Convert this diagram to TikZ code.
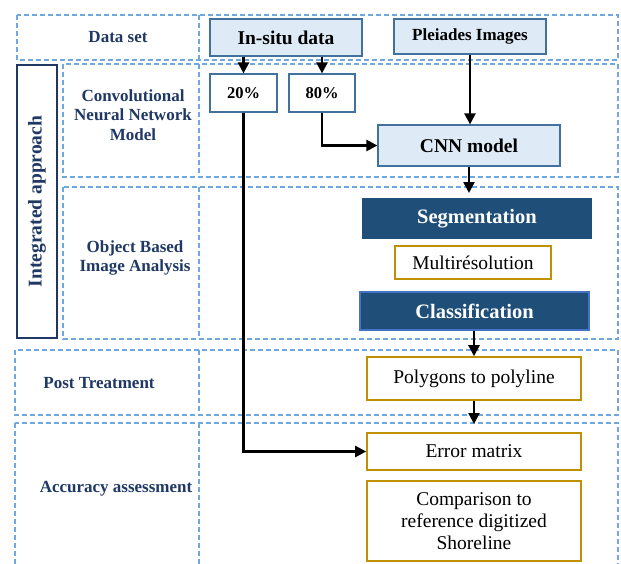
\documentclass[tikz,border=0pt]{standalone}
\usepackage{fontspec}
\setmainfont{Liberation Serif}
\usetikzlibrary{arrows.meta}
\definecolor{navy}{HTML}{1F3864}
\definecolor{dashblue}{HTML}{6FA8DC}
\definecolor{boxblue}{HTML}{41719C}
\definecolor{lightblue}{HTML}{DEEBF7}
\definecolor{darkblue}{HTML}{1F4E79}
\definecolor{rimblue}{HTML}{4472C4}
\definecolor{gold}{HTML}{BF9000}

\begin{document}
\begin{tikzpicture}[x=1pt,y=-1pt]

        \useasboundingbox (0,0) rectangle (621,563);

        \tikzstyle{every node}=[inner sep=0pt,align=center]
        \tikzstyle{rowline}=[draw=dashblue,line width=1.4pt,dash pattern=on 5pt off 3pt]
        \tikzstyle{rowlabel}=[text=navy,font=\fontsize{17}{19.5}\selectfont\bfseries]
        \tikzstyle{databox}=[draw=boxblue,fill=lightblue,line width=1.2pt,font=\fontsize{17}{20}\selectfont\bfseries]
        \tikzstyle{splitbox}=[draw=boxblue,fill=white,line width=1.2pt,font=\fontsize{16.5}{20}\selectfont\bfseries]
        \tikzstyle{stepbox}=[draw=darkblue,fill=darkblue,text=white,line width=1.2pt,font=\fontsize{20.5}{24}\selectfont\bfseries]
        \tikzstyle{goldbox}=[draw=gold,fill=white,line width=1.6pt,font=\fontsize{19.5}{21.7}\selectfont]
        \tikzstyle{flow}=[-{Triangle[length=11pt,width=11pt]},line width=2.4pt]

        % dashed rows of the table
        \begin{scope}
            \clip (0,0) rectangle (621,563);
            \foreach \xa / \ya / \yb in {17/15/60,63/64/177,63/187/339,15/350/415,15/423/590} {
                \draw[rowline] (\xa,\ya) rectangle (618,\yb);
                \draw[rowline] (199,\ya) -- (199,\yb);
            }
        \end{scope}

        \node[rowlabel] (dataset) at (118,37) {Data set};
        \node[rowlabel] (cnnrow) at (133,115) {Convolutional\\Neural Network\\Model};
        \node[rowlabel] (obiarow) at (135,258) {Object Based\\Image Analysis};
        \node[rowlabel] (postrow) at (99,383) {Post Treatment};
        \node[rowlabel] (accrow) at (116,489) {Accuracy assessment};
        \node[rowlabel,draw=navy,line width=1.4pt,rotate=90,minimum width=273pt,minimum height=40pt,
              font=\fontsize{19.5}{22}\selectfont\bfseries] (integrated) at (37,201.5) {Integrated approach};

        \node[databox,minimum width=152pt,minimum height=37pt,font=\fontsize{19.5}{22}\selectfont\bfseries] (insitu) at (286,37.5) {In-situ data};
        \node[databox,minimum width=152pt,minimum height=35pt] (pleiades) at (470,36.5) {Pleiades Images};
        \node[splitbox,minimum width=67pt,minimum height=38pt] (p20) at (243.5,93) {20\%};
        \node[splitbox,minimum width=66pt,minimum height=38pt] (p80) at (322,93) {80\%};
        \node[databox,minimum width=182pt,minimum height=41pt,font=\fontsize{19.5}{22}\selectfont\bfseries] (cnn) at (469,145.5) {CNN model};

        \node[stepbox,minimum width=228pt,minimum height=39pt] (segment) at (477,218.5) {Segmentation};
        \node[goldbox,minimum width=156pt,minimum height=33pt] (multires) at (473,262.5) {Multirésolution};
        \node[stepbox,draw=rimblue,minimum width=229pt,minimum height=38pt] (classif) at (474.5,311) {Classification};
        \node[goldbox,minimum width=214pt,minimum height=43pt] (polygons) at (474,378.5) {Polygons to polyline};
        \node[goldbox,minimum width=214pt,minimum height=37pt] (errmat) at (474,451.5) {Error matrix};
        \node[goldbox,minimum width=214pt,minimum height=80pt] (compare) at (474,521) {Comparison to\\reference digitized\\Shoreline};

        \coordinate (obiatop) at (469,193);
        \coordinate (acctop) at (474,424);

        \draw[flow] (insitu.south -| p20.north) -- (p20.north);
        \draw[flow] (insitu.south -| p80.north) -- (p80.north);
        \draw[flow] (pleiades.south) -- (pleiades.south |- cnn.north);
        \draw[flow] (p80.south) |- (cnn.west);
        \draw[flow] (cnn.south) -- (obiatop);
        \draw[flow] (classif.south -| polygons.north) -- (polygons.north);
        \draw[flow] (polygons.south) -- (acctop);
        \draw[flow] (p20.south) |- (errmat.west);

    \end{tikzpicture}
\end{document}
